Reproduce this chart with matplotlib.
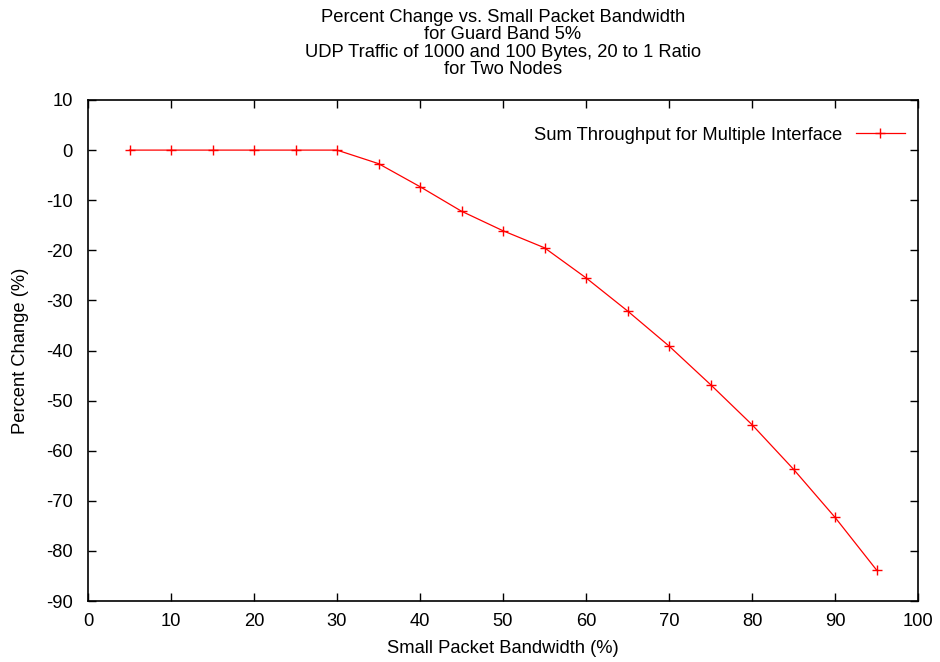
import matplotlib
matplotlib.use("Agg")
import matplotlib.pyplot as plt

plt.rcParams['font.family'] = ['Liberation Sans', 'DejaVu Sans']
plt.rcParams['axes.unicode_minus'] = False

bandwidth = [5, 10, 15, 20, 25, 30, 35, 40, 45, 50, 55, 60, 65, 70, 75, 80, 85, 90, 95]
pct_change = [0, 0, 0, 0, 0, 0, -2.7, -7.3, -12.2, -16.1, -19.5, -25.5, -32.1, -39.1,
              -46.8, -54.8, -63.7, -73.3, -83.8]
series_label = "Sum Throughput for Multiple Interface"
title = ("Percent Change vs. Small Packet Bandwidth\nfor Guard Band 5%\n"
         "UDP Traffic of 1000 and 100 Bytes, 20 to 1 Ratio\nfor Two Nodes")
xticks = list(range(0, 101, 10))
yticks = list(range(-90, 11, 10))

FS = 13.2
L, R, T, B = 88, 918, 100, 601
W, H = 940, 662

fig = plt.figure(figsize=(9.4, 6.62), dpi=100)
ax = fig.add_axes([L/W, 1 - B/H, (R-L)/W, (B-T)/H])

ax.plot(bandwidth, pct_change, color='#ff0000', linewidth=0.9, marker='+',
        markersize=7, markeredgewidth=1.0, label=series_label)

ax.set_xlim(0, 100)
ax.set_ylim(-90, 10)
ax.set_xticks(xticks)
ax.set_yticks(yticks)
ax.tick_params(direction='in', top=True, right=True, length=6, width=1,
               labelsize=FS, colors='black')
ax.tick_params(axis='x', pad=9)
ax.tick_params(axis='y', pad=11)
for s in ax.spines.values():
    s.set_linewidth(1.2)

ax.set_xlabel("Small Packet Bandwidth (%)", fontsize=FS)
ax.xaxis.set_label_coords(0.5, (B - 640) / (B - T))
ax.set_ylabel("Percent Change (%)", fontsize=FS)
ax.yaxis.set_label_coords((29 - L) / (R - L), 0.5)

fig.text(0.5 * (L + R) / W, 1 - 9/H, title, ha='center', va='top', fontsize=FS,
         linespacing=1.03)

leg = ax.legend(loc='center right', bbox_to_anchor=((905 - L) / (R - L), (B - 135) / (B - T)),
                frameon=False, fontsize=FS, markerfirst=False, borderpad=0,
                borderaxespad=0, handlelength=2.7, handletextpad=0.7)

fig.savefig("out.png", dpi=100)
